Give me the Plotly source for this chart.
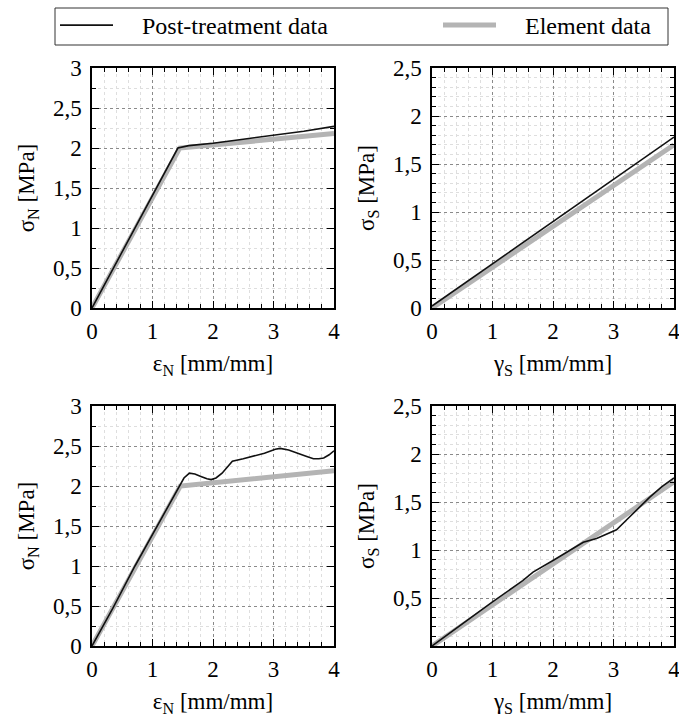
import plotly.graph_objects as go

# ---- data ----
tl_post_x = [0, 0.5, 1.0, 1.42, 1.6, 2.0, 2.5, 3.0, 3.5, 4.0]
tl_post_y = [0, 0.70, 1.40, 2.0, 2.03, 2.06, 2.11, 2.16, 2.21, 2.27]
tl_elem_x = [0, 1.45, 4.0]
tl_elem_y = [0, 2.0, 2.18]

tr_post_x = [0, 1.0, 2.0, 3.0, 4.0]
tr_post_y = [0.02, 0.46, 0.90, 1.34, 1.78]
tr_elem_x = [0, 4.0]
tr_elem_y = [0, 1.70]

bl_post_x = [0, 0.35, 0.71, 1.1, 1.46, 1.52, 1.61, 1.7, 1.8, 1.9, 1.97, 2.05, 2.15, 2.32, 2.5, 2.65,
             2.85, 3.03, 3.11, 3.25, 3.42, 3.55, 3.66, 3.75, 3.83, 3.92, 4.0]
bl_post_y = [0, 0.48, 1.0, 1.53, 2.03, 2.10, 2.16, 2.15, 2.12, 2.09, 2.08, 2.10, 2.16, 2.31, 2.34, 2.37,
             2.41, 2.46, 2.47, 2.45, 2.40, 2.37, 2.34, 2.34, 2.35, 2.39, 2.44]
bl_elem_x = [0, 1.46, 4.0]
bl_elem_y = [0, 2.0, 2.19]

br_post_x = [0, 0.5, 1.0, 1.5, 1.67, 2.0, 2.3, 2.5, 2.72, 2.88, 3.05, 3.21, 3.44, 3.6, 3.8, 4.0]
br_post_y = [0, 0.23, 0.46, 0.68, 0.77, 0.89, 1.00, 1.08, 1.12, 1.16, 1.21, 1.31, 1.45, 1.55, 1.66, 1.75]
br_elem_x = [0, 4.0]
br_elem_y = [0, 1.71]

x_ticks = [0, 1, 2, 3, 4]

FONT = "Tinos, Times New Roman, Liberation Serif, serif"
POST_COLOR = "#111111"
ELEM_COLOR = "#b4b4b4"
NB = "\u00a0"

fig = go.Figure()

panels = [
    ("x", "y", tl_post_x, tl_post_y, tl_elem_x, tl_elem_y, True),
    ("x2", "y2", tr_post_x, tr_post_y, tr_elem_x, tr_elem_y, False),
    ("x3", "y3", bl_post_x, bl_post_y, bl_elem_x, bl_elem_y, False),
    ("x4", "y4", br_post_x, br_post_y, br_elem_x, br_elem_y, False),
]
for xa, ya, px, py, ex, ey, show in panels:
    fig.add_trace(go.Scatter(x=ex, y=ey, mode="lines", xaxis=xa, yaxis=ya,
                             line=dict(color=ELEM_COLOR, width=5),
                             name=NB * 4 + "Element data", showlegend=show, legend="legend2"))
    fig.add_trace(go.Scatter(x=px, y=py, mode="lines", xaxis=xa, yaxis=ya,
                             line=dict(color=POST_COLOR, width=1.6),
                             name=NB * 4 + "Post-treatment data", showlegend=show, legend="legend"))

W, H = 679, 720
def dx(a, b):
    return [a / W, b / W]
def dy(top, bottom):
    return [(H - bottom) / H, (H - top) / H]

def tfont(size=23):
    return dict(family=FONT, size=size, color="black")

def xaxis(domain, anchor, title):
    return dict(
        domain=domain, anchor=anchor, range=[0, 4], tickvals=x_ticks,
        showline=True, linecolor="black", linewidth=1.5, mirror="ticks",
        ticks="inside", ticklen=7, tickwidth=1, tickcolor="black",
        showgrid=True, gridcolor="#8a8a8a", gridwidth=1, griddash="dot",
        zeroline=False, automargin=False, ticklabeloverflow="allow",
        tickfont=tfont(23),
        minor=dict(dtick=0.2, ticks="inside", ticklen=4, tickcolor="black",
                   showgrid=True, gridcolor="#dedede", gridwidth=1),
        title=dict(text=title, standoff=12, font=tfont(23)), ticklabelstandoff=2)

def yaxis(domain, anchor, title, rng, minor_dtick, tickvals, ticktext):
    return dict(
        domain=domain, anchor=anchor, range=rng, tickvals=tickvals, ticktext=ticktext,
        showline=True, linecolor="black", linewidth=1.5, mirror="ticks",
        ticks="inside", ticklen=7, tickwidth=1, tickcolor="black",
        showgrid=True, gridcolor="#8a8a8a", gridwidth=1, griddash="dot",
        zeroline=False, automargin=False, ticklabeloverflow="allow",
        tickfont=tfont(23),
        minor=dict(dtick=minor_dtick, ticks="inside", ticklen=4, tickcolor="black",
                   showgrid=True, gridcolor="#dedede", gridwidth=1),
        title=dict(text=title, standoff=12, font=tfont(23)), ticklabelstandoff=4)

xl, xr = dx(92, 334), dx(432, 674)
yt, yb = dy(68, 308), dy(406, 646)

yv3 = [0, 0.5, 1, 1.5, 2, 2.5, 3]
yt3 = ["0", "0,5", "1", "1,5", "2", "2,5", "3"]
yv25 = [0, 0.5, 1, 1.5, 2, 2.5]
yt25 = ["0", "0,5", "1", "1,5", "2", "2,5"]
yv25b = [0.5, 1, 1.5, 2, 2.5]
yt25b = ["0,5", "1", "1,5", "2", "2,5"]

legend_common = dict(orientation="h", xanchor="left", yanchor="top", y=(H - 3) / H,
                     borderwidth=0, bgcolor="rgba(0,0,0,0)", itemwidth=53, font=tfont(24))

fig.update_layout(
    width=W, height=H,
    margin=dict(l=0, r=0, t=0, b=0, autoexpand=False),
    paper_bgcolor="white", plot_bgcolor="white",
    font=tfont(23),
    xaxis=xaxis(xl, "y", "ε<sub>N</sub> [mm/mm]"),
    yaxis=yaxis(yt, "x", "σ<sub>N</sub> [MPa]", [0, 3], 0.25, yv3, yt3),
    xaxis2=xaxis(xr, "y2", "γ<sub>S</sub> [mm/mm]"),
    yaxis2=yaxis(yt, "x2", "σ<sub>S</sub> [MPa]", [0, 2.5], 0.1, yv25, yt25),
    xaxis3=xaxis(xl, "y3", "ε<sub>N</sub> [mm/mm]"),
    yaxis3=yaxis(yb, "x3", "σ<sub>N</sub> [MPa]", [0, 3], 0.25, yv3, yt3),
    xaxis4=xaxis(xr, "y4", "γ<sub>S</sub> [mm/mm]"),
    yaxis4=yaxis(yb, "x4", "σ<sub>S</sub> [MPa]", [0, 2.5], 0.1, yv25b, yt25b),
    legend=dict(legend_common, x=55 / W),
    legend2=dict(legend_common, x=438 / W),
    shapes=[dict(type="rect", xref="paper", yref="paper",
                 x0=55 / W, x1=668 / W, y0=(H - 45) / H, y1=(H - 8) / H,
                 line=dict(color="#333333", width=1), fillcolor="rgba(0,0,0,0)", layer="below")],
)

fig.write_html("out.html", config={"displayModeBar": False},
               post_script="document.body.style.margin='0';")
